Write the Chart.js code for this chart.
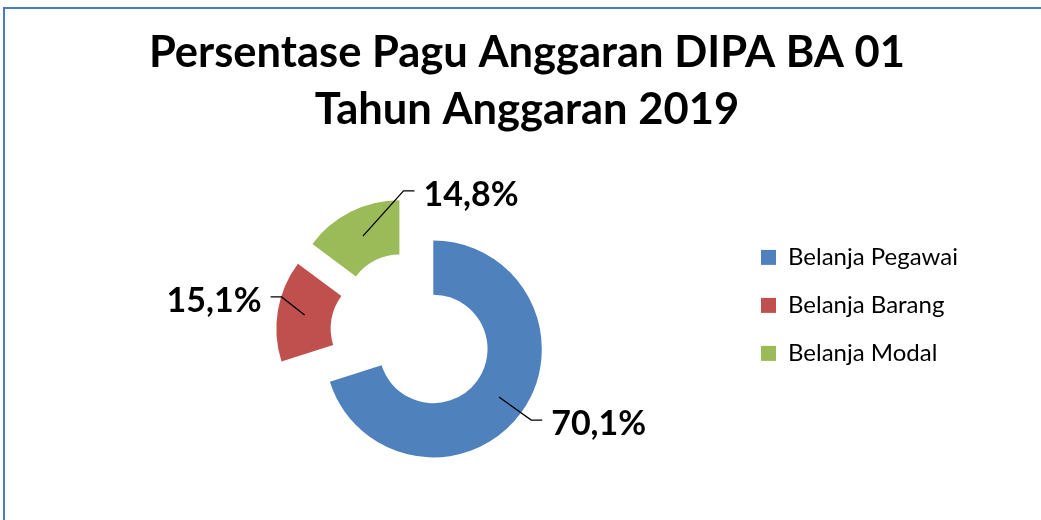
<!DOCTYPE html>
<html>
<head>
<meta charset="utf-8">
<script src="https://cdn.jsdelivr.net/npm/chart.js@4.4.0/dist/chart.umd.min.js"></script>
<style>
  body { margin: 0; background: #fff; }
  #wrap { position: relative; width: 1041px; height: 520px; overflow: hidden; }
  #frame {
    position: absolute; left: 3px; top: 7px; right: -10px; bottom: -10px;
    border-left: 2px solid #4a7ebb; border-top: 2px solid #4a7ebb;
  }
</style>
</head>
<body>
<div id="wrap">
  <div id="frame"></div>
  <canvas id="pieChart"></canvas>
</div>
<script>
const labels = ["Belanja Pegawai", "Belanja Barang", "Belanja Modal"];
const persen = [70.1, 15.1, 14.8];
const warna = ["#4f81bd", "#c0504d", "#9bbb59"];
const judul = ["Persentase Pagu Anggaran DIPA BA 01", "Tahun Anggaran 2019"];

// jarak potongan yang dipisah dari pusat (px)
const explode = 27;

// siku garis label: sudut (derajat dari atas, searah jarum jam), jarak, sisi teks
const labelLayout = [
  { angle: 126, r: 121, side: 1 },
  { angle: 287, r: 108, side: -1 },
  { angle: 2, r: 118, side: 1 },
];

const explodePlugin = {
  id: "explode",

  beforeDatasetDraw(chart, args) {
    const ctx = chart.ctx;
    args.meta.data.forEach((arc) => {
      const mid = (arc.startAngle + arc.endAngle) / 2;
      ctx.save();
      ctx.translate(Math.cos(mid) * explode, Math.sin(mid) * explode);
      arc.draw(ctx);
      ctx.restore();
    });
    return false;
  },

  afterDatasetsDraw(chart) {
    const ctx = chart.ctx;
    const meta = chart.getDatasetMeta(0);

    meta.data.forEach((arc, i) => {
      const mid = (arc.startAngle + arc.endAngle) / 2;
      const cx = arc.x + Math.cos(mid) * explode;
      const cy = arc.y + Math.sin(mid) * explode;
      const rMid = (arc.innerRadius + arc.outerRadius) / 2;
      const ax = cx + Math.cos(mid) * rMid;
      const ay = cy + Math.sin(mid) * rMid;

      const lay = labelLayout[i];
      const a = ((lay.angle - 90) * Math.PI) / 180;
      const ex = cx + Math.cos(a) * lay.r;
      const ey = cy + Math.sin(a) * lay.r;
      const hx = ex + lay.side * 11;

      ctx.save();
      ctx.strokeStyle = "#000";
      ctx.lineWidth = 1.3;
      ctx.beginPath();
      ctx.moveTo(ax, ay);
      ctx.lineTo(ex, ey);
      ctx.lineTo(hx, ey);
      ctx.stroke();

      ctx.font = "bold 34px Lato";
      ctx.fillStyle = "#000";
      ctx.textAlign = lay.side > 0 ? "left" : "right";
      ctx.textBaseline = "middle";
      ctx.fillText(persen[i].toFixed(1).replace(".", ",") + "%", hx + lay.side * 9, ey + 4);
      ctx.restore();
    });
  },
};

new Chart(document.getElementById("pieChart"), {
  type: "doughnut",

  data: {
    labels: labels,
    datasets: [
      {
        data: persen,
        backgroundColor: warna,
        borderWidth: 0,
      },
    ],
  },

  options: {
    responsive: true,
    maintainAspectRatio: false,
    animation: false,
    radius: 108.5,
    cutout: "50%",

    layout: {
      padding: { left: 86, right: 73, top: 0, bottom: 4 },
    },

    plugins: {
      title: {
        display: true,
        text: judul,
        color: "#000",
        font: { family: "Lato", size: 43.5, weight: "bold", lineHeight: 1.31 },
        padding: { top: 24, bottom: 12 },
      },

      legend: {
        position: "right",
        align: "start",
        maxWidth: 234,
        title: {
          display: true,
          text: "",
          font: { size: 12 },
          padding: { top: 207, bottom: 0 },
        },
        labels: {
          boxWidth: 15,
          boxHeight: 15,
          padding: 24,
          color: "#000",
          font: { family: "Lato", size: 24 },
        },
      },

      tooltip: { enabled: false },
    },
  },

  plugins: [explodePlugin],
});
</script>
</body>
</html>
